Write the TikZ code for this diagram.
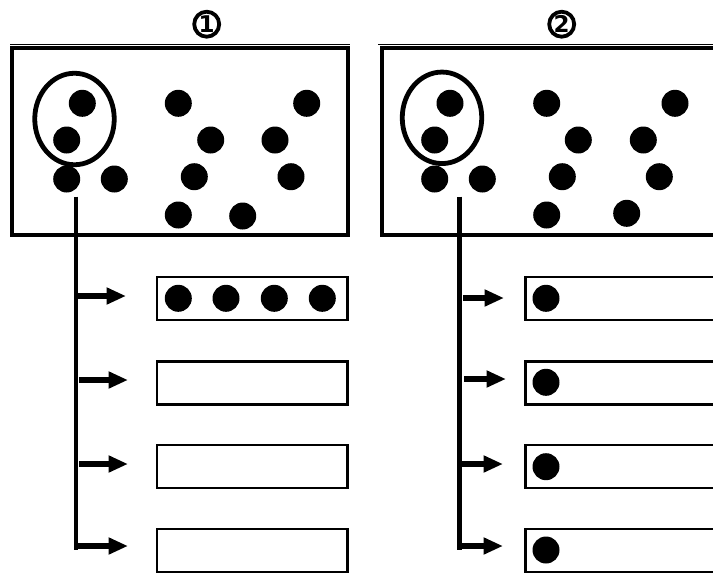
\documentclass[tikz,border=0pt]{standalone}
\usepackage{fontspec}
\setsansfont{DejaVu Sans}
\usetikzlibrary{arrows.meta,shapes.geometric}
\begin{document}
\begin{tikzpicture}[x=1pt,y=-1pt,
  dot/.style={circle,fill=black,inner sep=0pt,minimum size=27pt},
  frm/.style={draw,line width=4pt,inner sep=0pt,minimum height=186.7pt},
  thinline/.style={line width=1.6pt},
  ring/.style={ellipse,draw,line width=4.8pt,inner sep=0pt,minimum width=79.5pt,minimum height=91.5pt},
  vline/.style={line width=4.5pt},
  arr/.style={line width=6.5pt,-{Triangle[length=19.5pt,width=16pt]}},
  slot/.style={draw,line width=2.4pt,inner sep=0pt,minimum height=43pt},
  numcirc/.style={circle,draw,line width=3.8pt,inner sep=0pt,minimum size=25pt,font=\sffamily\bfseries\fontsize{23}{23}\selectfont}
]
\clip (0,0) rectangle (713,574);
% ---------- panel 1 ----------
\node[numcirc] (n1) at (206.7,24.2) {1};
\draw[thinline] (10,44.3) -- (349.5,44.3);
\node[frm,minimum width=336pt] (f1) at (180,141.65) {};
\node[ring] (r1) at (74.5,119) {};
\foreach \x/\y [count=\i] in {82.3/103.3,66.7/140,66.7/179,114.3/179,178.3/103.3,306.7/103.3,210.7/140,275/140,194.3/176.7,291/176.7,178.3/215,242.7/216}
  \node[dot] (a\i) at (\x,\y) {};
\coordinate (t1) at (75.8,196.7);
\coordinate (b1) at (75.8,550);
\draw[vline] (t1) -- (b1);
\foreach \y [count=\i] in {298.2,382.8,466.5,550.2}
  \node[slot,minimum width=190.6pt] (p\i) at (252,\y) {};
\foreach \x [count=\i] in {178.3,226,274.3,322.3}
  \node[dot] (g\i) at (\x,298.3) {};
\coordinate (s11) at (75.8,296);   \coordinate (e11) at (126,296);
\coordinate (s12) at (79,380);   \coordinate (e12) at (128,380);
\coordinate (s13) at (79,464);   \coordinate (e13) at (128,464);
\coordinate (s14) at (75.8,546);   \coordinate (e14) at (128,546);
\foreach \i in {1,...,4} \draw[arr] (s1\i) -- (e1\i);
% ---------- panel 2 ----------
\node[numcirc] (n2) at (561.7,24.2) {2};
\draw[thinline] (378,44.3) -- (720,44.3);
\node[frm,minimum width=400pt,anchor=west] (f2) at (380,141.65) {};
\node[ring] (r2) at (442,117.8) {};
\foreach \x/\y [count=\i] in {450/103.3,434.7/140,434.7/179,482.3/179,546.7/103.3,675/103.3,578.3/140,643.3/140,562.3/176.7,659.3/176.7,546.7/215,626.7/213.3}
  \node[dot] (c\i) at (\x,\y) {};
\coordinate (t2) at (459.5,196.7);
\coordinate (b2) at (459.5,550);
\draw[vline] (t2) -- (b2);
\foreach \y [count=\i] in {298.2,382.8,466.5,550.2}
  \node[slot,minimum width=240pt,anchor=west] (q\i) at (524.3,\y) {};
\foreach \y [count=\i] in {298.3,382.3,466.7,550}
  \node[dot] (d\i) at (546,\y) {};
\coordinate (s21) at (463,298);   \coordinate (e21) at (504,298);
\coordinate (s22) at (464,379);   \coordinate (e22) at (506,379);
\coordinate (s23) at (459.5,464);   \coordinate (e23) at (503,464);
\coordinate (s24) at (459.5,546);   \coordinate (e24) at (503,546);
\foreach \i in {1,...,4} \draw[arr] (s2\i) -- (e2\i);
\end{tikzpicture}
\end{document}
